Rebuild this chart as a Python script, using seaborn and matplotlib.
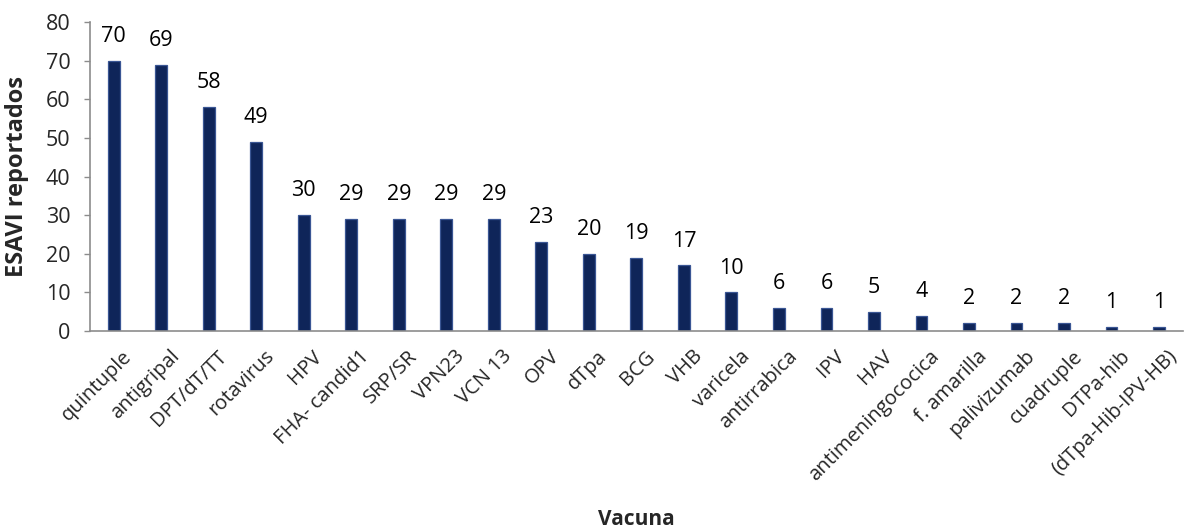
import matplotlib
matplotlib.use("Agg")
import matplotlib.pyplot as plt
import matplotlib.transforms as mtransforms
import seaborn as sns
import pandas as pd

vacunas = ["quintuple", "antigripal", "DPT/dT/TT", "rotavirus", "HPV", "FHA- candid1",
           "SRP/SR", "VPN23", "VCN 13", "OPV", "dTpa", "BCG", "VHB", "varicela",
           "antirrabica", "IPV", "HAV", "antimeningococica", "f. amarilla",
           "palivizumab", "cuadruple", "DTPa-hib", "(dTpa-Hib-IPV-HB)"]
esavi = [70, 69, 58, 49, 30, 29, 29, 29, 29, 23, 20, 19, 17, 10, 6, 6, 5, 4, 2, 2, 2, 1, 1]
y_ticks = [0, 10, 20, 30, 40, 50, 60, 70, 80]

sns.set_theme(style="white")
plt.rcParams["font.family"] = ["Open Sans", "DejaVu Sans"]

df = pd.DataFrame({"Vacuna": vacunas, "ESAVI": esavi})

fig = plt.figure(figsize=(11.84, 5.28), dpi=100)
ax = fig.add_axes([0.076, 0.373, 0.923, 0.585])

sns.barplot(data=df, x="Vacuna", y="ESAVI", color="#0f2559", width=0.25,
            edgecolor="#3a5694", linewidth=0.9, saturation=1, ax=ax)

for patch, v in zip(ax.patches, esavi):
    ax.annotate(str(v), (patch.get_x() + patch.get_width() / 2, v),
                xytext=(0, 10), textcoords="offset points",
                ha="center", va="bottom", fontsize=15.5, color="black")

ax.set_ylim(0, 80)
ax.set_yticks(y_ticks)
ax.set_xlim(-0.5, len(vacunas) - 0.5)
ax.tick_params(axis="y", labelsize=15.5, length=4, width=1, color="#8c8c8c",
               direction="out", left=True, pad=10)
ax.tick_params(axis="x", labelsize=14.5, length=0, pad=11)
shift = mtransforms.ScaledTranslation(6 / 72, 0, fig.dpi_scale_trans)
for lbl in ax.get_xticklabels():
    lbl.set_rotation(45)
    lbl.set_ha("right")
    lbl.set_rotation_mode("anchor")
    lbl.set_transform(lbl.get_transform() + shift)

for side in ("top", "right"):
    ax.spines[side].set_visible(False)
for side in ("left", "bottom"):
    ax.spines[side].set_color("#8c8c8c")
    ax.spines[side].set_linewidth(1.2)

ax.set_ylabel("ESAVI reportados", fontsize=17, fontweight="bold", labelpad=12)
ax.set_xlabel("Vacuna", fontsize=15, fontweight="bold")
ax.xaxis.set_label_coords(0.5, -0.575)

fig.savefig("out.png", dpi=100, facecolor="white")
